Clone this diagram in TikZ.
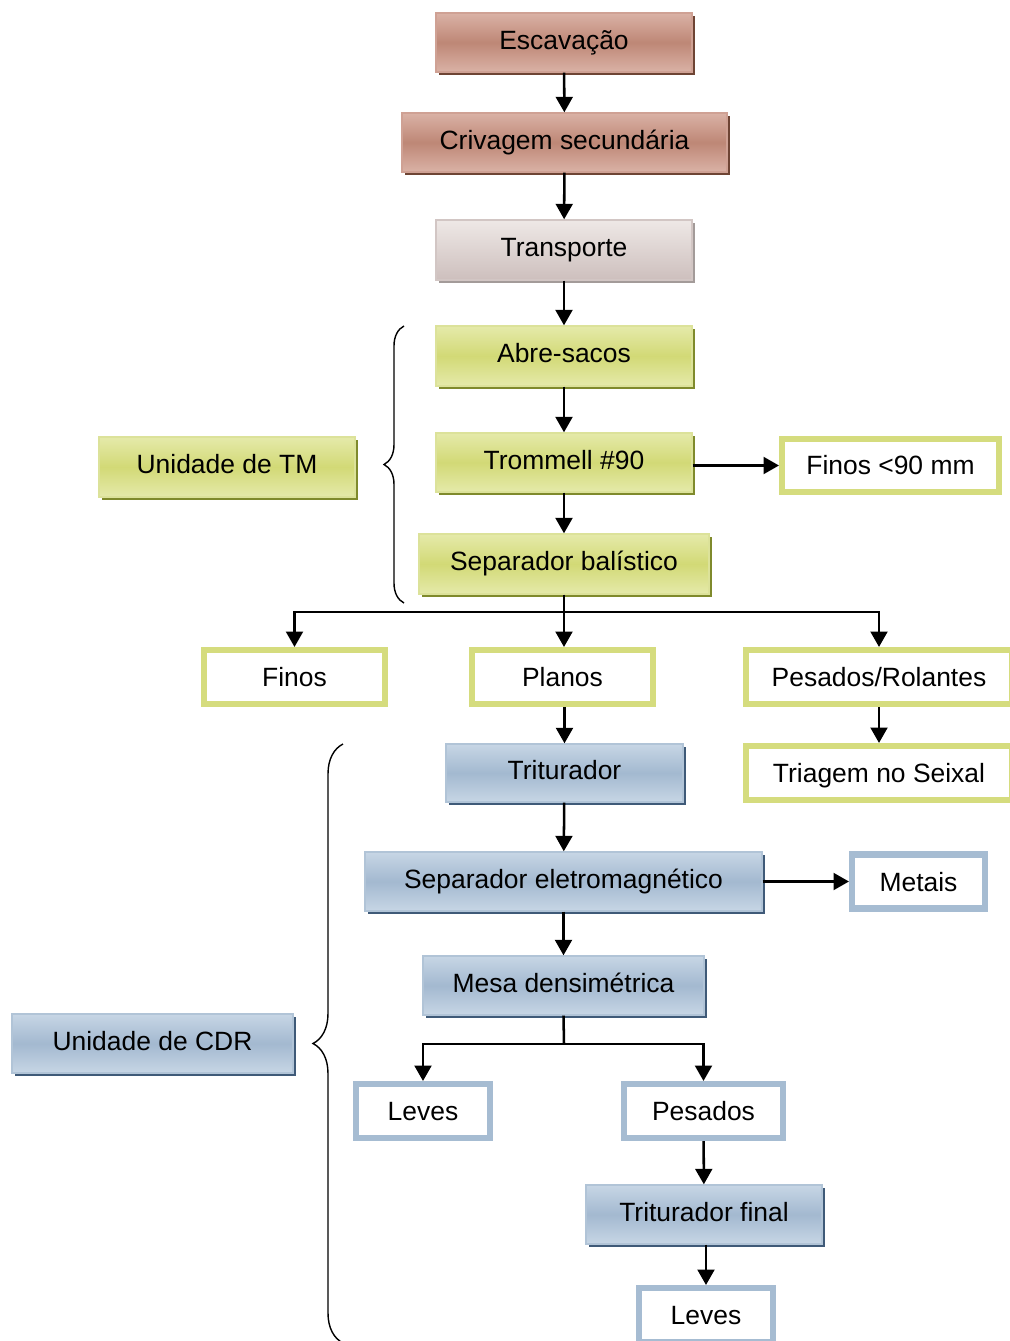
\documentclass[tikz,border=0pt]{standalone}
\usepackage{fontspec}
\setmainfont{Liberation Sans}
\usetikzlibrary{arrows.meta, shadows, decorations.pathreplacing}

\newcommand{\px}{0.025cm}

\definecolor{brwTop}{HTML}{DAB2A6}
\definecolor{brwMid}{HTML}{BE8776}
\definecolor{brwLine}{HTML}{CFA194}
\definecolor{brwShadow}{HTML}{6E4434}
\definecolor{gryTop}{HTML}{EEE8E6}
\definecolor{gryBot}{HTML}{CDBFBD}
\definecolor{gryLine}{HTML}{D2C6C4}
\definecolor{gryShadow}{HTML}{A39B99}
\definecolor{grnTop}{HTML}{E5EAAA}
\definecolor{grnMid}{HTML}{D2D976}
\definecolor{grnLine}{HTML}{DCE29A}
\definecolor{grnShadow}{HTML}{7F8A2C}
\definecolor{bluTop}{HTML}{C7D6E5}
\definecolor{bluMid}{HTML}{A3B9D0}
\definecolor{bluLine}{HTML}{B1C4D7}
\definecolor{bluShadow}{HTML}{3F5A78}
\definecolor{grnOut}{HTML}{D5DC7E}
\definecolor{bluOut}{HTML}{A6BCD2}

\tikzset{
  box/.style={rectangle, inner sep=0pt, text height=13.5pt, text depth=4pt,
    font=\fontsize{18.8}{22}\selectfont},
  dshadow/.style={drop shadow={shadow xshift=0.08cm, shadow yshift=-0.08cm,
    fill=#1, opacity=1}},
  brownbox/.style={box, draw=brwLine, line width=1pt, top color=brwTop,
    bottom color=brwTop, middle color=brwMid, dshadow=brwShadow},
  graybox/.style={box, draw=gryLine, line width=1pt, top color=gryTop,
    bottom color=gryBot, dshadow=gryShadow},
  greenbox/.style={box, draw=grnLine, line width=1pt, top color=grnTop,
    bottom color=grnTop, middle color=grnMid, dshadow=grnShadow},
  bluebox/.style={box, draw=bluLine, line width=1pt, top color=bluTop,
    bottom color=bluTop, middle color=bluMid, dshadow=bluShadow},
  greenout/.style={box, text depth=0pt, draw=grnOut, fill=white, line width=4.3pt},
  blueout/.style={box, text depth=0pt, draw=bluOut, fill=white, line width=4.3pt},
  arr/.style={line width=1.8pt, -{Triangle[length=11pt, width=12pt]}},
  link/.style={line width=1.8pt},
  curly/.style={line width=1pt, decorate, decoration={brace, amplitude=#1}},
}

\begin{document}
\begin{tikzpicture}[x=\px, y=-\px]

        \useasboundingbox (0, 0) rectangle (1009, 1341);

        % process chain
        \node[brownbox, minimum width=256*\px, minimum height=59*\px] (esc) at (564, 42.5) {Escavação};
        \node[brownbox, minimum width=325*\px, minimum height=59*\px] (criv) at (564.5, 142.5) {Crivagem secundária};
        \node[graybox, minimum width=256*\px, minimum height=60*\px] (transp) at (564, 250) {Transporte};
        \node[greenbox, minimum width=256*\px, minimum height=60*\px] (abre) at (564, 356) {Abre-sacos};
        \node[greenbox, minimum width=256*\px, minimum height=59*\px] (tromm) at (564, 462.5) {Trommell \#90};
        \node[greenbox, minimum width=290*\px, minimum height=60*\px] (sepbal) at (564, 564) {Separador balístico};
        \node[greenbox, minimum width=256*\px, minimum height=60*\px] (tm) at (227, 467) {Unidade de TM};
        \node[greenout, minimum width=217*\px, minimum height=53*\px] (fin90) at (890.5, 465.5) {Finos <90 mm};

        \node[greenout, minimum width=181*\px, minimum height=54*\px] (finos) at (294.5, 677) {Finos};
        \node[greenout, minimum width=181*\px, minimum height=54*\px] (planos) at (562.5, 677) {Planos};
        \node[greenout, minimum width=266*\px, minimum height=54*\px] (pesrol) at (879, 677) {Pesados/Rolantes};
        \node[greenout, minimum width=266*\px, minimum height=54*\px] (triag) at (879, 773) {Triagem no Seixal};

        \node[bluebox, minimum width=237*\px, minimum height=58*\px] (trit) at (564.5, 773) {Triturador};
        \node[bluebox, minimum width=397*\px, minimum height=59*\px] (sepem) at (563.5, 881.5) {Separador eletromagnético};
        \node[blueout, minimum width=133*\px, minimum height=54*\px] (metais) at (918.5, 881.5) {Metais};
        \node[bluebox, minimum width=281*\px, minimum height=59*\px] (mesa) at (563.5, 985.5) {Mesa densimétrica};
        \node[blueout, minimum width=134*\px, minimum height=54*\px] (leves) at (423, 1111) {Leves};
        \node[blueout, minimum width=159*\px, minimum height=54*\px] (pesados) at (703.5, 1111) {Pesados};
        \node[bluebox, minimum width=236*\px, minimum height=59*\px] (tritfin) at (704, 1214.5) {Triturador final};
        \node[blueout, minimum width=134*\px, minimum height=54*\px] (leves2) at (706, 1315) {Leves};
        \node[bluebox, minimum width=281*\px, minimum height=59*\px] (cdr) at (152.5, 1043.5) {Unidade de CDR};

        \coordinate (balsplit) at (564, 612);
        \coordinate (mesasplit) at (564, 1044);

        \draw[arr] (esc) -- (criv);
        \draw[arr] (criv) -- (transp);
        \draw[arr] (transp) -- (abre);
        \draw[arr] (abre) -- (tromm);
        \draw[arr] (tromm) -- (sepbal);
        \draw[arr] (tromm.east |- fin90.west) -- (fin90.west);

        \draw[arr] (sepbal.south) -- (sepbal.south |- planos.north);
        \draw[arr] (balsplit) -| (finos.north);
        \draw[arr] (balsplit) -| (pesrol.north);
        \draw[arr] (planos.south -| trit.north) -- (trit.north);
        \draw[arr] (pesrol) -- (triag);

        \draw[arr] (trit) -- (sepem);
        \draw[arr] (sepem.east |- metais.west) -- (metais.west);
        \draw[arr] (sepem) -- (mesa);
        \draw[link] (mesa.south) -- (mesasplit);
        \draw[arr] (mesasplit) -| (leves.north);
        \draw[arr] (mesasplit) -| (pesados.north);
        \draw[arr] (pesados) -- (tritfin);
        \draw[arr] (tritfin.south -| leves2.north) -- (leves2.north);

        % braces
        \coordinate (tmtop) at (404, 326);
        \coordinate (tmbot) at (404, 603);
        \draw[curly=0.5cm] (tmbot) -- (tmtop);
        \coordinate (cdrtop) at (343, 744);
        \coordinate (cdrbot) at (343, 1343);
        \draw[curly=0.75cm] (cdrbot) -- (cdrtop);

    \end{tikzpicture}
\end{document}
